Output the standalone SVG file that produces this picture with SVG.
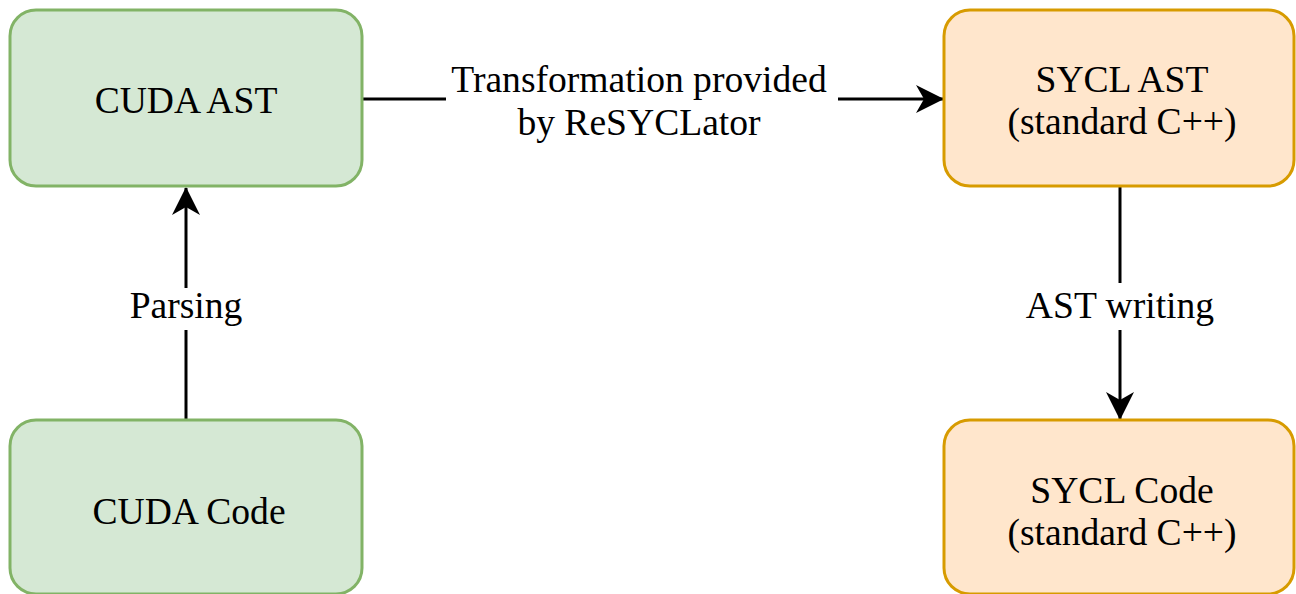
<svg xmlns="http://www.w3.org/2000/svg" width="1296" height="594" viewBox="0 0 1296 594">
<defs>
<style>
.g{fill:#d5e8d4;stroke:#82b366;stroke-width:3}
.o{fill:#ffe6cc;stroke:#d79b00;stroke-width:3}
text{font-family:"Liberation Serif","Times New Roman",serif;font-size:37.6px;fill:#000;text-anchor:middle}
.e{stroke:#000;stroke-width:3;fill:none}
.lb{fill:#fff;stroke:none}
</style>
<marker id="ah" viewBox="0 0 28 28" refX="27" refY="14" markerWidth="28" markerHeight="28" markerUnits="userSpaceOnUse" orient="auto">
<path d="M0,0 L28,14 L0,28 L8,14 Z" fill="#000"/>
</marker>
</defs>
<rect width="1296" height="594" fill="#fff"/>
<g id="connectors">
<path class="e" d="M362,99 L943,99" marker-end="url(#ah)"/>
<rect class="lb" x="446" y="60" width="392" height="86"/>
<text x="639" y="92">Transformation provided</text>
<text x="639" y="135">by ReSYCLator</text>
<path class="e" d="M186,420 L186,188" marker-end="url(#ah)"/>
<rect class="lb" x="124" y="288" width="124" height="42"/>
<text x="186" y="318">Parsing</text>
<path class="e" d="M1120,186 L1120,419" marker-end="url(#ah)"/>
<rect class="lb" x="1022" y="283" width="196" height="47"/>
<text x="1120" y="318">AST writing</text>
</g>
<g id="cuda-ast">
<rect class="g" x="10" y="10" width="352" height="176" rx="26"/>
<text x="186" y="113">CUDA AST</text>
</g>
<g id="cuda-code">
<rect class="g" x="10" y="420" width="352" height="174" rx="26"/>
<text x="189" y="524">CUDA Code</text>
</g>
<g id="sycl-ast">
<rect class="o" x="944" y="10" width="350" height="176" rx="26"/>
<text x="1122" y="92">SYCL AST</text>
<text x="1122" y="134">(standard C++)</text>
</g>
<g id="sycl-code">
<rect class="o" x="944" y="420" width="350" height="174" rx="26"/>
<text x="1122" y="503">SYCL Code</text>
<text x="1122" y="545">(standard C++)</text>
</g>
</svg>
